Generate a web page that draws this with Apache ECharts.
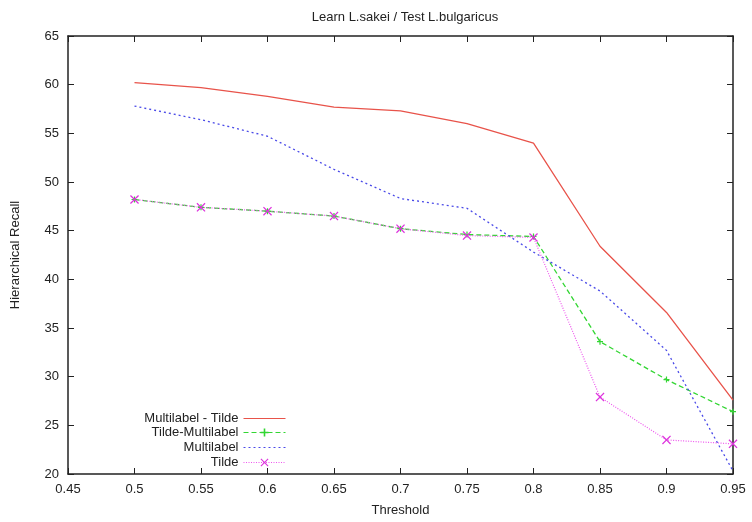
<!DOCTYPE html>
<html>
<head>
<meta charset="utf-8">
<script src="https://cdn.jsdelivr.net/npm/echarts@6/dist/echarts.min.js"></script>
<style>
html,body{margin:0;padding:0;background:#fff;}
#chart{width:752px;height:522px;}
</style>
</head>
<body>
<div id="chart"></div>
<script>
var thresholds = [0.5, 0.55, 0.6, 0.65, 0.7, 0.75, 0.8, 0.85, 0.9, 0.95];
var multiTilde = [60.2, 59.7, 58.8, 57.7, 57.3, 56.0, 54.0, 43.4, 36.6, 27.6];
var tildeMulti = [48.2, 47.4, 47.0, 46.5, 45.2, 44.6, 44.4, 33.6, 29.7, 26.4];
var multilabel = [57.8, 56.4, 54.7, 51.3, 48.3, 47.3, 42.8, 38.8, 32.7, 20.3];
var tilde = [48.2, 47.4, 47.0, 46.5, 45.2, 44.5, 44.3, 27.9, 23.5, 23.1];
var names = ['Multilabel - Tilde', 'Tilde-Multilabel', 'Multilabel', 'Tilde'];

function pairs(ys){
    var out = [];
    for (var i = 0; i < thresholds.length; i++) out.push([thresholds[i], ys[i]]);
    return out;
}

var chart = echarts.init(document.getElementById('chart'));
var font = 'Liberation Sans';
var plusPath = 'path://M4,0H6V4H10V6H6V10H4V6H0V4H4Z';
var crossPath = 'path://M0,1L1,0L5,4L9,0L10,1L6,5L10,9L9,10L5,6L1,10L0,9L4,5Z';
var legendTops = [412, 426, 441, 456];

function legendFor(i, noMarker){
    var lg = {
        data: [names[i]],
        right: 466,
        top: legendTops[i],
        align: 'right',
        itemWidth: 42,
        itemHeight: 10,
        itemGap: 8,
        padding: 0,
        selectedMode: false,
        lineStyle: {width: 1},
        textStyle: {fontFamily: font, fontSize: 13, color: '#222', padding: [0, 0, 0, 0]}
    };
    if (noMarker) lg.itemStyle = {opacity: 0};
    return lg;
}

var xAxisBase = {
    type: 'value', min: 0.45, max: 0.95, interval: 0.05,
    axisLine: {lineStyle: {color: '#222', width: 1.5}},
    axisTick: {inside: true, length: 6, lineStyle: {color: '#222'}},
    splitLine: {show: false}
};
var yAxisBase = {
    type: 'value', min: 20, max: 65, interval: 5,
    axisLine: {show: true, lineStyle: {color: '#222', width: 1.5}},
    axisTick: {show: true, inside: true, length: 6, lineStyle: {color: '#222'}},
    splitLine: {show: false}
};

var option = {
    animation: false,
    backgroundColor: '#fff',
    title: {
        text: 'Learn L.sakei / Test L.bulgaricus',
        left: 400, top: 6, textAlign: 'center',
        textStyle: {fontFamily: font, fontSize: 13, fontWeight: 'normal', color: '#222'}
    },
    legend: [legendFor(0, true), legendFor(1), legendFor(2, true), legendFor(3)],
    grid: {left: 68, right: 19, top: 36, bottom: 45},
    xAxis: [
        Object.assign({}, xAxisBase, {
            position: 'bottom',
            name: 'Threshold', nameLocation: 'middle', nameGap: 30,
            nameTextStyle: {fontFamily: font, fontSize: 13, color: '#222'},
            axisLabel: {fontFamily: font, fontSize: 13, color: '#222', margin: 9,
                formatter: function(v){ return String(parseFloat(v.toFixed(2))); }}
        }),
        Object.assign({}, xAxisBase, {position: 'top', axisLabel: {show: false}})
    ],
    yAxis: [
        Object.assign({}, yAxisBase, {
            position: 'left',
            name: 'Hierarchical Recall', nameLocation: 'middle', nameGap: 46,
            nameTextStyle: {fontFamily: font, fontSize: 13, color: '#222'},
            axisLabel: {fontFamily: font, fontSize: 13, color: '#222', margin: 9}
        }),
        Object.assign({}, yAxisBase, {position: 'right', axisLabel: {show: false}})
    ],
    series: [
        {
            name: names[0], type: 'line', data: pairs(multiTilde),
            symbol: 'none',
            lineStyle: {color: '#e8534a', width: 1.3, type: 'solid'},
            itemStyle: {color: '#e8534a'}
        },
        {
            name: names[1], type: 'line', data: pairs(tildeMulti),
            symbol: plusPath, symbolSize: 6,
            lineStyle: {color: '#33d633', width: 1.3, type: [5, 3]},
            itemStyle: {color: '#33d633'}
        },
        {
            name: names[2], type: 'line', data: pairs(multilabel),
            symbol: 'none',
            lineStyle: {color: '#4a4ae8', width: 1.3, type: [2, 3]},
            itemStyle: {color: '#4a4ae8'}
        },
        {
            name: names[3], type: 'line', data: pairs(tilde),
            symbol: crossPath, symbolSize: 9,
            lineStyle: {color: '#ee55ee', width: 1.2, type: [1, 1.5]},
            itemStyle: {color: '#dd33dd'}
        }
    ]
};
chart.setOption(option);
</script>
</body>
</html>
